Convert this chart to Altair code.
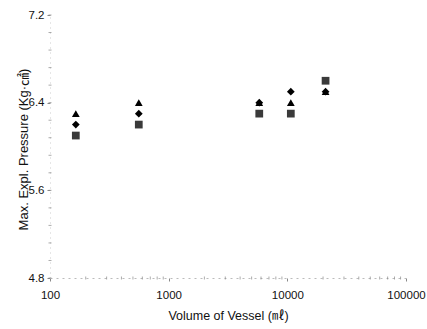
import altair as alt
import pandas as pd

volumes = [165, 560, 5800, 10700, 21000]
series_triangle = [6.3, 6.4, 6.4, 6.4, 6.5]
series_diamond = [6.2, 6.3, 6.4, 6.5, 6.5]
series_square = [6.1, 6.2, 6.3, 6.3, 6.6]

x_tick_values = [100, 1000, 10000, 100000]
y_label_values = [4.8, 5.6, 6.4, 7.2]
y_tick_values = [round(4.8 + 0.16 * i, 2) for i in range(16)]
minor_x = [m * 10 ** k for k in (2, 3, 4) for m in range(2, 10)]

FONT = "Liberation Sans, Noto Sans CJK JP"

rows = []
for name, vals in (("triangle", series_triangle), ("diamond", series_diamond), ("square", series_square)):
    for v, p in zip(volumes, vals):
        rows.append({"volume": v, "pressure": p, "series": name})
df = pd.DataFrame(rows)

x_scale = alt.Scale(type="log", domain=[100, 100000], nice=False)
y_scale = alt.Scale(domain=[4.8, 7.2], nice=False, zero=False)

x_enc = alt.X(
    "volume:Q", scale=x_scale,
    axis=alt.Axis(values=x_tick_values, format="d", title="Volume of Vessel (㎖)",
                  grid=False, tickSize=3, tickColor="#888", domainColor="#bbb", domainDash=[2, 4],
                  labelFontSize=11.5, titleFontSize=12.5, labelPadding=8, titlePadding=9,
                  labelFlush=False, labelOverlap=False,
                  labelFont=FONT, titleFont=FONT, labelColor="#111", titleColor="#111",
                  titleFontWeight="normal"),
)
y_enc = alt.Y(
    "pressure:Q", scale=y_scale,
    axis=alt.Axis(values=y_label_values, format=".1f",
                  title="Max. Expl. Pressure (Kg·㎠)", grid=False, tickSize=3, tickColor="#888",
                  domainColor="#ccc", domainDash=[1, 4], labelFlush=False, labelOverlap=False,
                  labelFontSize=11.5, titleFontSize=13, labelPadding=3,
                  titleX=-27, titleY=134, titleBaseline="middle", titleAlign="center",
                  labelFont=FONT, titleFont=FONT, labelColor="#111", titleColor="#111",
                  titleFontWeight="normal"),
)

points = alt.Chart(df).mark_point(filled=True, opacity=1, size=60).encode(
    x=x_enc,
    y=y_enc,
    shape=alt.Shape("series:N",
                    scale=alt.Scale(domain=["triangle", "diamond", "square"],
                                    range=["triangle-up", "diamond", "square"]),
                    legend=None),
    color=alt.Color("series:N",
                    scale=alt.Scale(domain=["triangle", "diamond", "square"],
                                    range=["#000000", "#000000", "#3a3a3a"]),
                    legend=None),
)

minor_df = pd.DataFrame({"volume": minor_x, "pressure": [4.8] * len(minor_x)})
minor_x_ticks = alt.Chart(minor_df).mark_tick(orient="vertical", size=3, thickness=1, color="#888").encode(
    x=alt.X("volume:Q", scale=x_scale),
    y=alt.Y("pressure:Q", scale=y_scale),
)

minor_y_df = pd.DataFrame({"pressure": y_tick_values, "volume": [100] * len(y_tick_values)})
minor_y_ticks = alt.Chart(minor_y_df).mark_tick(orient="horizontal", size=3, thickness=1, color="#888").encode(
    x=alt.X("volume:Q", scale=x_scale),
    y=alt.Y("pressure:Q", scale=y_scale),
)

chart = alt.layer(minor_x_ticks, minor_y_ticks, points).properties(
    width=356, height=263,
    autosize=alt.AutoSizeParams(type="none"),
    padding={"left": 50, "top": 15, "right": 21, "bottom": 51},
).configure(background="white").configure_view(stroke=None)

chart.save("out.html", embed_options={"renderer": "svg", "actions": False})
